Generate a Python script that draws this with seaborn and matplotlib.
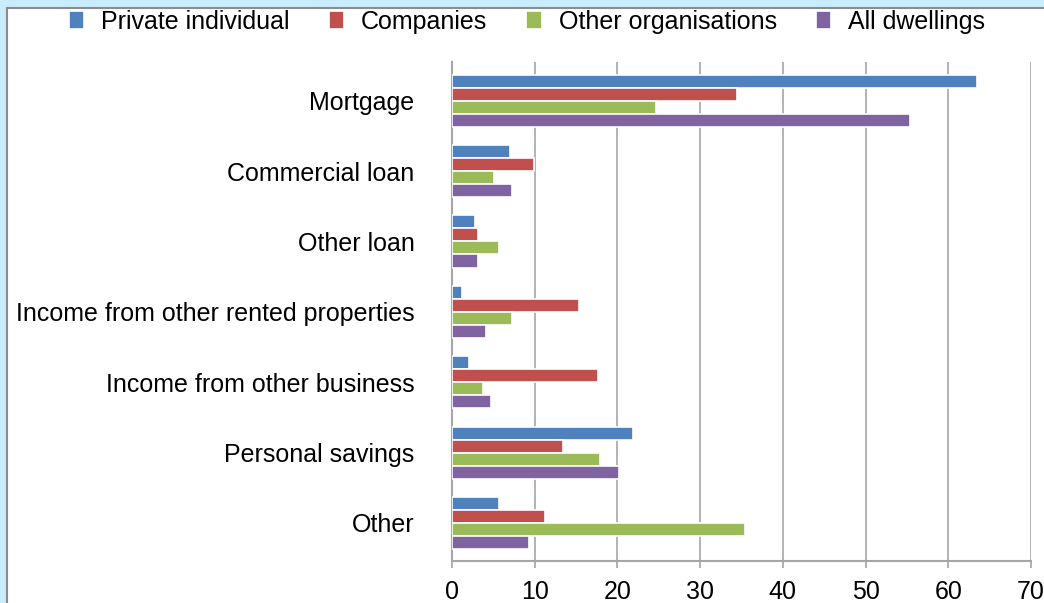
import pandas as pd
import matplotlib.pyplot as plt
import matplotlib.patches as mpatches
import seaborn as sns

categories = ["Mortgage", "Commercial loan", "Other loan",
              "Income from other rented properties", "Income from other business",
              "Personal savings", "Other"]
series = ["Private individual", "Companies", "Other organisations", "All dwellings"]

private_individual = [63.5, 7.0, 2.8, 1.2, 2.1, 21.9, 5.7]
companies = [34.4, 9.9, 3.1, 15.4, 17.6, 13.4, 11.2]
other_organisations = [24.7, 5.1, 5.7, 7.3, 3.8, 17.9, 35.4]
all_dwellings = [55.4, 7.3, 3.1, 4.1, 4.7, 20.2, 9.3]

colors = ["#4F81BD", "#C0504D", "#9BBB59", "#8064A2"]

df = pd.DataFrame({"category": categories,
                   series[0]: private_individual,
                   series[1]: companies,
                   series[2]: other_organisations,
                   series[3]: all_dwellings})
long = df.melt(id_vars="category", var_name="series", value_name="value")

sns.set_theme(style="white")
plt.rcParams["font.family"] = ["Liberation Sans", "DejaVu Sans"]
plt.rcParams["text.color"] = "black"

fig = plt.figure(figsize=(10.44, 6.03), dpi=100)
fig.patch.set_facecolor("#C9EDFC")
# white chart panel with grey frame
panel = mpatches.Rectangle((7 / 1044, -0.01), 1.0, 1 - 8 / 603 + 0.01,
                           transform=fig.transFigure, facecolor="white",
                           edgecolor="#8C8C8C", linewidth=1.5, zorder=-10)
fig.patches.append(panel)

ax = fig.add_axes([452 / 1044, 1 - 561 / 603, (1031 - 452) / 1044, (561 - 62) / 603])
ax.set_zorder(5)
ax.set_facecolor("white")
sns.barplot(data=long, y="category", x="value", hue="series", order=categories,
            hue_order=series, palette=colors, orient="h", width=0.74,
            edgecolor="white", linewidth=1.2, saturation=1, ax=ax, zorder=3)

ax.set_xlim(0, 70)
ax.set_ylim(6.54, -0.55)
ax.set_xticks(range(0, 71, 10))
ax.xaxis.grid(True, color="#A6A6A6", linewidth=1.2, zorder=0)
ax.set_axisbelow(True)
ax.set_xlabel("")
ax.set_ylabel("")
for s in ["top", "right"]:
    ax.spines[s].set_visible(False)
for s in ["left", "bottom"]:
    ax.spines[s].set_color("#A6A6A6")
    ax.spines[s].set_linewidth(1.5)
ax.tick_params(axis="x", bottom=True, length=5, color="#A6A6A6", width=1.2,
               labelsize=18, pad=9, labelcolor="black")
ax.tick_params(axis="y", left=False, labelsize=18, pad=21, labelcolor="black")

handles, labels = ax.get_legend_handles_labels()
ax.legend(handles, labels, loc="center", bbox_to_anchor=(527 / 1044, 1 - 22 / 603),
          bbox_transform=fig.transFigure, ncol=4, frameon=False, fontsize=18,
          handlelength=0.62, handleheight=0.75, handletextpad=0.68, columnspacing=1.55)

fig.savefig("out.png", dpi=100, facecolor=fig.get_facecolor())
